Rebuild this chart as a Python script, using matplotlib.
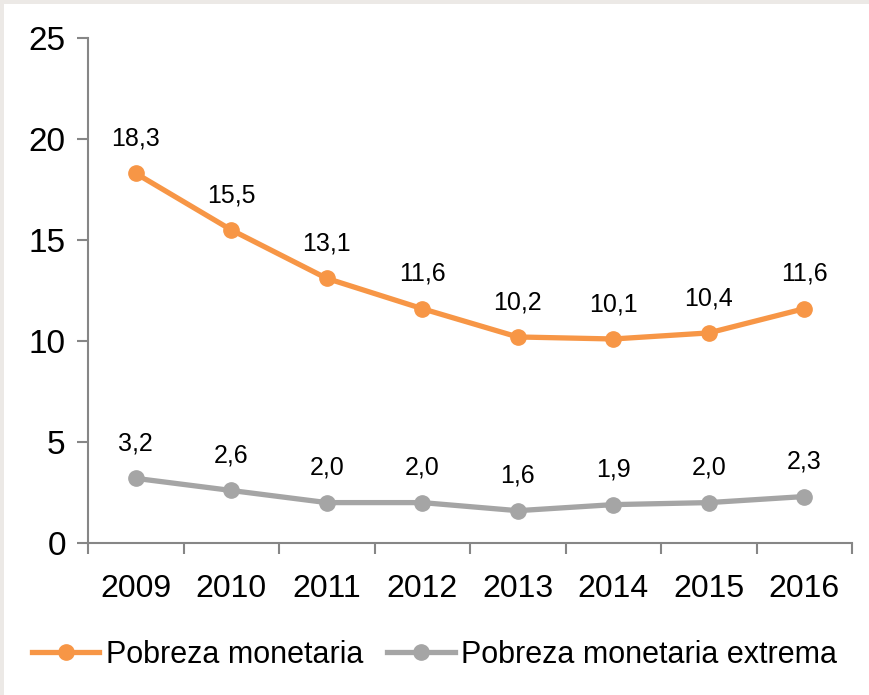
import matplotlib.pyplot as plt
from matplotlib.patches import Rectangle

years = ["2009", "2010", "2011", "2012", "2013", "2014", "2015", "2016"]
pobreza = [18.3, 15.5, 13.1, 11.6, 10.2, 10.1, 10.4, 11.6]
extrema = [3.2, 2.6, 2.0, 2.0, 1.6, 1.9, 2.0, 2.3]

plt.rcParams['font.family'] = ['Liberation Sans Narrow', 'Liberation Sans', 'DejaVu Sans']

fig = plt.figure(figsize=(8.69, 6.95), dpi=100)
fig.patch.set_facecolor("white")
# thin grey frame on the top and left edges
fig.patches.append(Rectangle((0, 0), 4 / 869, 1, transform=fig.transFigure,
                             facecolor="#ECE9E6", edgecolor="none", zorder=-10))
fig.patches.append(Rectangle((0, 1 - 4 / 695), 1, 4 / 695, transform=fig.transFigure,
                             facecolor="#ECE9E6", edgecolor="none", zorder=-10))

ax = fig.add_axes([88 / 869, 152 / 695, 764 / 869, 505 / 695])
ax.set_facecolor("none")

x = range(len(years))
ax.plot(x, pobreza, color="#F79646", lw=3.8, marker="o", ms=11, label="Pobreza monetaria")
ax.plot(x, extrema, color="#A5A5A5", lw=3.8, marker="o", ms=11, label="Pobreza monetaria extrema")

for xi, v in zip(x, pobreza):
    ax.annotate(f"{v:.1f}".replace(".", ","), (xi, v), xytext=(0, 25), textcoords="offset points",
                ha="center", va="center", fontsize=18)
for xi, v in zip(x, extrema):
    ax.annotate(f"{v:.1f}".replace(".", ","), (xi, v), xytext=(0, 25), textcoords="offset points",
                ha="center", va="center", fontsize=18)

ax.set_xlim(-0.5, 7.5)
ax.set_ylim(0, 25)
ax.set_yticks([0, 5, 10, 15, 20, 25])
ax.set_xticks([i - 0.5 for i in range(9)])
ax.set_xticklabels([])
ax.set_xticks(list(x), minor=True)
ax.set_xticklabels(years, minor=True)
ax.tick_params(axis="x", which="minor", length=0, pad=22, labelsize=23)
ax.tick_params(axis="x", which="major", length=8, width=1.5, color="#868686")
ax.tick_params(axis="y", length=8, width=1.5, color="#868686", labelsize=24, pad=8)

for s in ["top", "right"]:
    ax.spines[s].set_visible(False)
for s in ["left", "bottom"]:
    ax.spines[s].set_color("#868686")
    ax.spines[s].set_linewidth(1.5)

fig.legend(loc="center", bbox_to_anchor=(0.5, 40 / 695), ncol=2, frameon=False,
           fontsize=22, handlelength=2.2, handletextpad=0.2, columnspacing=0.8)

fig.savefig("out.png", dpi=100, facecolor=fig.get_facecolor())
